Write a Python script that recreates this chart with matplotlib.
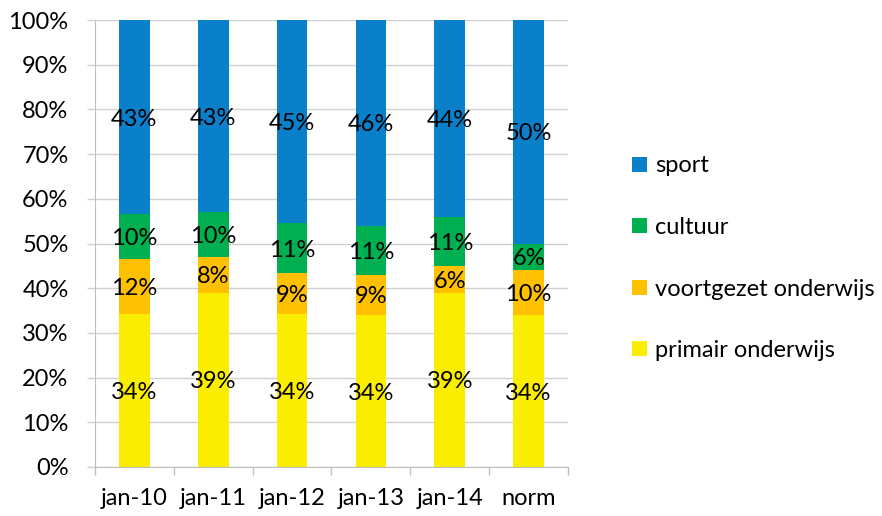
import numpy as np
import matplotlib
matplotlib.use("Agg")
import matplotlib.pyplot as plt
from matplotlib.ticker import PercentFormatter, FixedLocator

plt.rcParams['font.family'] = ['Lato', 'DejaVu Sans']

# data (percentages as shown in the chart)
categories = ['jan-10', 'jan-11', 'jan-12', 'jan-13', 'jan-14', 'norm']
series_names = ['primair onderwijs', 'voortgezet onderwijs', 'cultuur', 'sport']
primair = [34, 39, 34, 34, 39, 34]
voortgezet = [12, 8, 9, 9, 6, 10]
cultuur = [10, 10, 11, 11, 11, 6]
sport = [43, 43, 45, 46, 44, 50]
colors = ['#FAED00', '#FFC000', '#00B050', '#0A7FCA']

values = np.array([primair, voortgezet, cultuur, sport], dtype=float)
shares = values / values.sum(axis=0) * 100  # 100% stacked

fs = 17

fig = plt.figure(figsize=(8.82, 5.16), dpi=100)
ax = fig.add_axes([0.1077, 0.095, 0.5363, 0.866])

x = np.arange(len(categories))
bottom = np.zeros(len(categories))
bars = []
for i, name in enumerate(series_names):
    b = ax.bar(x, shares[i], 0.39, bottom=bottom, color=colors[i], label=name, zorder=2)
    bars.append(b)
    for xi, h, bt, v in zip(x, shares[i], bottom, values[i]):
        ax.text(xi, bt + h / 2, f'{int(v)}%', ha='center', va='center_baseline',
                fontsize=fs, zorder=3)
    bottom += shares[i]

ax.set_xlim(-0.5, len(categories) - 0.5)
ax.set_ylim(0, 100)
ax.set_yticks(np.arange(0, 101, 10))
ax.yaxis.set_major_formatter(PercentFormatter(decimals=0))
ax.grid(axis='y', color='#D0D0D0', linewidth=1, zorder=0)

ax.set_xticks(x)
ax.set_xticklabels(categories)
ax.xaxis.set_minor_locator(FixedLocator(np.arange(-0.5, len(categories), 1)))
ax.tick_params(axis='x', which='major', length=0, pad=15, labelsize=fs)
ax.tick_params(axis='x', which='minor', length=6, color='#BFBFBF', width=1)
ax.tick_params(axis='y', length=6, color='#D0D0D0', width=1, pad=13, labelsize=fs)

for s in ['top', 'right']:
    ax.spines[s].set_visible(False)
ax.spines['left'].set_color('#BFBFBF')
ax.spines['bottom'].set_color('#BFBFBF')

handles = [bars[i] for i in range(3, -1, -1)]
labels = [series_names[i] for i in range(3, -1, -1)]
fig.legend(handles, labels, loc='upper left', bbox_to_anchor=(0.693, 0.74),
           frameon=False, fontsize=fs, handlelength=0.6, handleheight=0.6,
           handletextpad=0.35, labelspacing=1.72)

fig.savefig('out.png', dpi=100)
